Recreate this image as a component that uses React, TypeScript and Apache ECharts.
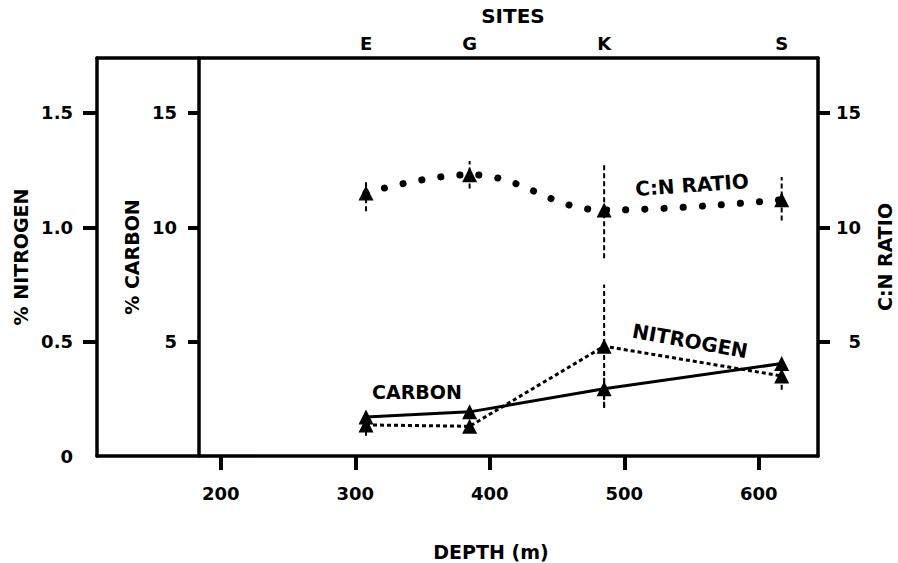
import React, { useEffect, useRef } from 'react';
import * as echarts from 'echarts';

// ---- data ----
const siteNames = ['E', 'G', 'K', 'S'];
const depths = [308, 385, 485, 617];
const carbon = [1.71, 1.93, 2.94, 4.04];
const nitrogen = [0.136, 0.13, 0.48, 0.35];
const cnRatio = [11.5, 12.3, 10.75, 11.2];
const cnLow = [10.7, 11.7, 8.64, 10.3];
const cnHigh = [12.0, 12.9, 12.8, 12.2];
const nLow = [0.088, 0.11, 0.21, 0.29];
const nHigh = [0.19, 0.15, 0.75, 0.41];
const cLow = [1.6, 1.85, 2.15, 3.95];
const cHigh = [1.85, 2.05, 3.6, 4.15];
const depthTicks = [200, 300, 400, 500, 600];
const nitrogenTicks = [0, 0.5, 1.0, 1.5];
const carbonTicks = [5, 10, 15];
const ratioTicks = [5, 10, 15];

const FONT = 'DejaVu Sans';
const txt = { fontFamily: FONT, fontWeight: 'bold' as const, color: '#000' };
const axisLine = { show: true, onZero: false, lineStyle: { color: '#000', width: 3.5 } };
const tickStyle = { color: '#000', width: 4 };

function errorBar(yAxisIndex: number, low: number[], high: number[]) {
  return {
    type: 'custom',
    xAxisIndex: 0,
    yAxisIndex,
    silent: true,
    z: 1,
    data: depths.map((d, i) => [d, low[i], high[i]]),
    renderItem: (_params: any, api: any) => {
      const p1 = api.coord([api.value(0), api.value(1)]);
      const p2 = api.coord([api.value(0), api.value(2)]);
      return {
        type: 'line',
        shape: { x1: p1[0], y1: p1[1], x2: p2[0], y2: p2[1] },
        style: { stroke: '#000', lineWidth: 2, lineDash: [5, 3] },
      };
    },
  };
}

function label(text: string, x: number, y: number, fontSize: number, rotation = 0) {
  return {
    type: 'text', x, y, rotation,
    style: {
      text, fontSize, fontFamily: FONT, fontWeight: 'bold', fill: '#000',
      textAlign: 'center', textVerticalAlign: 'middle',
    },
  };
}

export default function App() {
  const ref = useRef<HTMLDivElement>(null);
  useEffect(() => {
    document.body.style.margin = '0';
    const chart = echarts.init(ref.current!, null, { renderer: 'svg' });
    const option: any = {
      animation: false,
      backgroundColor: '#fff',
      grid: { left: 97, right: 80, top: 58, bottom: 107, containLabel: false, outerBoundsMode: 'none' },
      xAxis: [
        {
          type: 'value', position: 'bottom', min: 108, max: 644,
          axisLine,
          axisTick: { show: true, customValues: depthTicks, length: 14, lineStyle: tickStyle },
          axisLabel: { customValues: depthTicks, margin: 28, fontSize: 18, ...txt },
          splitLine: { show: false },
        },
        {
          type: 'value', position: 'top', min: 108, max: 644,
          axisLine,
          axisTick: { show: false },
          axisLabel: {
            customValues: depths, margin: 6, fontSize: 18, ...txt,
            formatter: (v: number) => siteNames[depths.indexOf(v)] ?? '',
          },
          splitLine: { show: false },
        },
      ],
      yAxis: [
        {
          type: 'value', position: 'left', min: 0, max: 1.74,
          axisLine,
          axisTick: { show: true, customValues: [0.5, 1.0, 1.5], length: 14, lineStyle: tickStyle },
          axisLabel: {
            customValues: nitrogenTicks, margin: 24, fontSize: 18, ...txt,
            formatter: (v: number) => (v === 0 ? '0' : v.toFixed(1)),
          },
          splitLine: { show: false },
          name: '% NITROGEN', nameLocation: 'middle', nameGap: 66, nameRotate: 90,
          nameTextStyle: { fontSize: 19, ...txt },
        },
        {
          type: 'value', position: 'left', offset: -102, min: 0, max: 17.4,
          axisLine,
          axisTick: { show: true, customValues: carbonTicks, length: 11, lineStyle: tickStyle },
          axisLabel: { customValues: carbonTicks, margin: 22, fontSize: 18, ...txt },
          splitLine: { show: false },
          name: '% CARBON', nameLocation: 'middle', nameGap: 56, nameRotate: 90,
          nameTextStyle: { fontSize: 19, ...txt },
        },
        {
          type: 'value', position: 'right', min: 0, max: 17.4,
          axisLine,
          axisTick: { show: true, customValues: ratioTicks, length: 12, lineStyle: tickStyle },
          axisLabel: { customValues: ratioTicks, margin: 43, align: 'right', fontSize: 18, ...txt },
          splitLine: { show: false },
          name: 'C:N RATIO', nameLocation: 'middle', nameGap: 57, nameRotate: 90,
          nameTextStyle: { fontSize: 19, ...txt },
        },
      ],
      series: [
        errorBar(2, cnLow, cnHigh),
        errorBar(0, nLow, nHigh),
        errorBar(1, cLow, cHigh),
        {
          name: 'C:N RATIO', type: 'line', xAxisIndex: 0, yAxisIndex: 2, z: 3,
          data: depths.map((d, i) => [d, cnRatio[i]]),
          smooth: 0.4,
          symbol: 'triangle', symbolSize: 15,
          itemStyle: { color: '#000' },
          lineStyle: { color: '#000', width: 7, type: [0.1, 19], cap: 'round' },
        },
        {
          name: 'CARBON', type: 'line', xAxisIndex: 0, yAxisIndex: 1, z: 3,
          data: depths.map((d, i) => [d, carbon[i]]),
          symbol: 'triangle', symbolSize: 15,
          itemStyle: { color: '#000' },
          lineStyle: { color: '#000', width: 3 },
        },
        {
          name: 'NITROGEN', type: 'line', xAxisIndex: 0, yAxisIndex: 0, z: 3,
          data: depths.map((d, i) => [d, nitrogen[i]]),
          symbol: 'triangle', symbolSize: 15,
          itemStyle: { color: '#000' },
          lineStyle: { color: '#000', width: 3, type: [4, 3] },
        },
      ],
      graphic: [
        label('SITES', 513, 16, 20),
        label('DEPTH (m)', 491, 552, 19),
        label('CARBON', 417, 392, 19),
        label('C:N RATIO', 692, 185, 20, 0.07),
        label('NITROGEN', 690, 341, 20, -0.18),
      ],
    };
    chart.setOption(option);
    return () => chart.dispose();
  }, []);
  return <div ref={ref} style={{ width: 898, height: 563 }} />;
}
